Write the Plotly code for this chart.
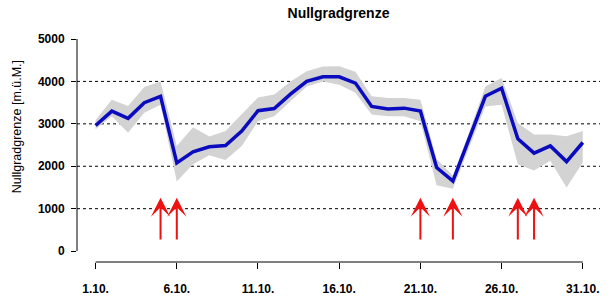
import plotly.graph_objects as go

days = list(range(1, 32))
median = [2960, 3300, 3130, 3500, 3650, 2080, 2340, 2460, 2490, 2830, 3310, 3360, 3700, 4000, 4110,
          4110, 3960, 3410, 3350, 3370, 3300, 1970, 1650, 2650, 3650, 3840, 2650, 2310, 2480, 2110, 2560]
upper = [3090, 3570, 3420, 3870, 4000, 2480, 2920, 2700, 2830, 3220, 3620, 3690, 4000, 4240, 4350,
         4360, 4230, 3650, 3610, 3610, 3570, 2170, 1780, 2800, 3880, 4080, 3020, 2750, 2750, 2710, 2830]
lower = [2870, 3180, 2790, 3260, 3450, 1640, 2050, 2260, 2150, 2480, 3060, 3180, 3530, 3880, 4000,
         3920, 3730, 3220, 3180, 3180, 3060, 1550, 1470, 2450, 3410, 3450, 2050, 1900, 2130, 1500, 2090]
arrow_days = [5, 6, 21, 23, 27, 28]
arrow_base = 240
arrow_tip = 1260
tick_days = [1, 6, 11, 16, 21, 26, 31]
tick_labels = ["1.10.", "6.10.", "11.10.", "16.10.", "21.10.", "26.10.", "31.10."]
y_ticks = [0, 1000, 2000, 3000, 4000, 5000]
grid_vals = [1000, 2000, 3000, 4000]

FONT = "Liberation Sans, Arial, sans-serif"

fig = go.Figure()
fig.add_trace(go.Scatter(x=days, y=upper, mode="lines", line=dict(width=0, color="#D3D3D3"),
                         hoverinfo="skip", showlegend=False))
fig.add_trace(go.Scatter(x=days, y=lower, mode="lines", line=dict(width=0, color="#D3D3D3"),
                         fill="tonexty", fillcolor="#D3D3D3", hoverinfo="skip", showlegend=False))
fig.add_trace(go.Scatter(x=days, y=median, mode="lines", line=dict(width=3.5, color="#0A0ABE"),
                         showlegend=False))

# dotted grid lines
for g in grid_vals:
    fig.add_shape(type="line", xref="paper", yref="y", x0=0, x1=1, y0=g, y1=g,
                  line=dict(color="black", width=1, dash="dot"), layer="below")

# axis lines (R style, detached)
fig.add_shape(type="line", xref="paper", yref="y", x0=0, x1=0, y0=y_ticks[0], y1=y_ticks[-1],
              line=dict(color="black", width=1))
fig.add_shape(type="line", xref="x", yref="paper", x0=tick_days[0], x1=tick_days[-1], y0=0, y1=0,
              line=dict(color="black", width=1))

for d in arrow_days:
    fig.add_annotation(x=d, y=arrow_tip, ax=d, ay=arrow_base, axref="x", ayref="y",
                       xref="x", yref="y", text="", showarrow=True, arrowhead=3,
                       arrowsize=1.6, arrowwidth=2, arrowcolor="#EE1111")

fig.add_annotation(text="Nullgradgrenze [m.ü.M.]", textangle=-90, xref="paper", yref="paper",
                   x=-0.1147, y=0.604, xanchor="center", yanchor="middle", showarrow=False,
                   font=dict(family=FONT, size=12.5, color="black"))

fig.update_layout(
    width=616, height=308,
    margin=dict(l=77, r=16, t=39, b=44),
    paper_bgcolor="white", plot_bgcolor="white",
    title=dict(text="<b>Nullgradgrenze</b>", x=0.5, xref="paper", y=1 - 13 / 308, yref="container",
               xanchor="center", yanchor="middle", font=dict(family=FONT, size=14, color="black")),
    xaxis=dict(range=[-0.145, 32.06], showgrid=False, zeroline=False, showline=False,
               tickmode="array", tickvals=tick_days, ticktext=["<b>%s</b>" % t for t in tick_labels],
               ticks="outside", ticklen=6, tickcolor="black", tickwidth=1,
               tickfont=dict(family=FONT, size=12, color="black"), ticklabelstandoff=10),
    yaxis=dict(range=[-257, 5000], showgrid=False, zeroline=False, showline=False,
               tickmode="array", tickvals=y_ticks, ticktext=["<b>%d</b>" % v for v in y_ticks],
               ticks="outside", ticklen=5, tickcolor="black", tickwidth=1,
               tickfont=dict(family=FONT, size=12, color="black"), ticklabelstandoff=4),
)

fig.write_html("out.html")
